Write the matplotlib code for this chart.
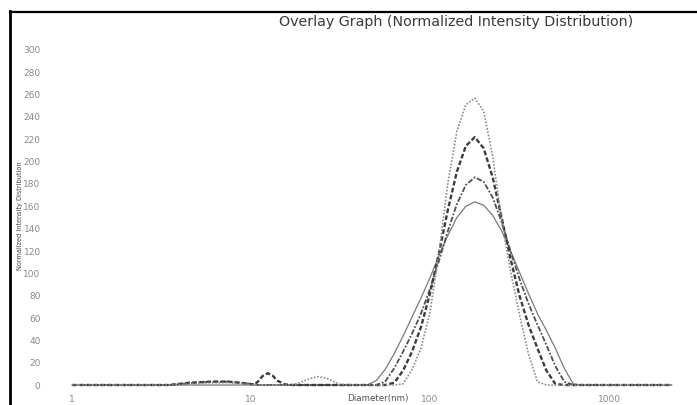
import matplotlib
matplotlib.use("Agg")
import matplotlib.pyplot as plt
from matplotlib.lines import Line2D

# Diameter grid (nm) shared by all four runs
diameter = [1.0, 2.0, 3.0, 3.5, 4.5, 6.0, 7.5, 9.3,
            10.5, 11.0, 11.6, 12.4, 13.2, 14.0, 15.5,
            17.2, 19.0, 21.0, 23.7, 26.5, 29.0, 31.4, 40.0,
            44.7, 50.1, 56.2, 63.1, 70.8, 79.4, 89.1, 100.0,
            112.2, 125.9, 141.3, 158.5, 177.8, 199.5, 223.9, 251.2,
            281.8, 316.2, 354.8, 398.1, 446.7, 501.2, 562.3, 631.0,
            707.9, 794.3, 1000.0, 2240.0]

# Normalized intensity, one list per run
run_a = [0, 0, 0, 0, 1, 2, 2, 1,
         0, 0, 0, 0, 0, 0, 0,
         0.3, 2.5, 5.5, 7.5, 6, 3, 0.5, 0,
         0, 0, 0, 0, 1, 14, 33, 65,
         118, 181, 227, 251, 257, 245, 205, 148,
         102, 63, 28, 3, 0, 0, 0, 0,
         0, 0, 0, 0]
run_b = [0, 0, 0, 0, 2, 3, 3, 1.5,
         0.5, 3.5, 8, 10.5, 8.5, 4, 0.5,
         0, 0, 0, 0, 0, 0, 0, 0,
         0, 0, 0, 2, 13, 30, 52, 82,
         118, 157, 191, 214, 222, 212, 186, 150,
         113, 80, 54, 33, 13, 1, 0, 0,
         0, 0, 0, 0]
run_c = [0, 0, 0, 0, 1.5, 3, 3, 1.5,
         0.5, 0, 0, 0, 0, 0, 0,
         0, 0, 0, 0, 0, 0, 0, 0,
         0, 0, 3, 15, 30, 46, 64, 86,
         111, 138, 162, 179, 186, 182, 168, 146,
         120, 95, 73, 54, 36, 17, 3, 0,
         0, 0, 0, 0]
run_d = [0, 0, 0, 0, 0, 0, 0, 0,
         0, 0, 0, 0, 0, 0, 0,
         0, 0, 0, 0, 0, 0, 0, 0,
         0, 4, 14, 28, 44, 61, 78, 96,
         116, 134, 150, 160, 164, 161, 152, 138,
         120, 101, 82, 64, 49, 33, 15, 1,
         0, 0, 0, 0]

y_ticks = list(range(0, 301, 20))
x_ticks = [1, 10, 100, 1000]

W, H = 697, 405
fig = plt.figure(figsize=(W / 100, H / 100), dpi=100)
ax = fig.add_axes([68.4 / W, 14.4 / H, 612.2 / W, 346.2 / H])

ax.plot(diameter, run_d, color="#7a7a7a", lw=0.9, ls="-")
ax.plot(diameter, run_c, color="#505050", lw=1.3, ls=(0, (3, 1, 1, 1)))
ax.plot(diameter, run_b, color="#3c3c3c", lw=1.7, ls=(0, (2, 1)))
ax.plot(diameter, run_a, color="#8c8c8c", lw=1.2, ls=(0, (1, 1)))

ax.set_xscale("log")
ax.set_xlim(10 ** -0.02, 10 ** 3.4)
ax.set_ylim(-5, 305)
ax.set_xticks(x_ticks)
ax.set_xticklabels([str(t) for t in x_ticks])
ax.minorticks_off()
ax.set_yticks(y_ticks)
ax.tick_params(axis="y", length=0, pad=20, labelsize=6.5, labelcolor="#8a8a8a")
ax.tick_params(axis="x", length=0, pad=3, labelsize=6.5, labelcolor="#8a8a8a")
for s in ax.spines.values():
    s.set_visible(False)

fig.text(378 / W, 1 - 398 / H, "Diameter(nm)", ha="center", va="center",
         fontsize=6.3, color="#555555")
fig.text(20 / W, 1 - 216 / H, "Normalized Intensity Distribution",
         rotation=90, ha="center", va="center", fontsize=4.7,
         color="#444444")
fig.text(456 / W, 1 - 22 / H, "Overlay Graph (Normalized Intensity Distribution)",
         ha="center", va="center", fontsize=10.3, color="#3a3a3a")

# scanned frame edges on the left and top
fig.add_artist(Line2D([9.5 / W, 9.5 / W], [0, 1 - 11 / H],
                      transform=fig.transFigure, color="black", lw=2.0))
fig.add_artist(Line2D([9.5 / W, 1], [1 - 12 / H, 1 - 12 / H],
                      transform=fig.transFigure, color="black", lw=1.6))

fig.savefig("out.png", dpi=100)
